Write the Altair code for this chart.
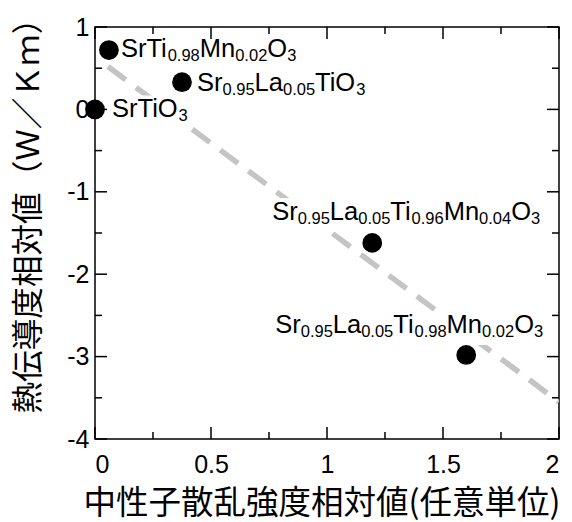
import re
import altair as alt
import pandas as pd

# ---- data -------------------------------------------------------------
compound = [
    "SrTiO_{3}",
    "SrTi_{0.98}Mn_{0.02}O_{3}",
    "Sr_{0.95}La_{0.05}TiO_{3}",
    "Sr_{0.95}La_{0.05}Ti_{0.96}Mn_{0.04}O_{3}",
    "Sr_{0.95}La_{0.05}Ti_{0.98}Mn_{0.02}O_{3}",
]
scattering = [0.0, 0.06, 0.375, 1.195, 1.6]      # neutron scattering intensity (rel.)
conductivity = [0.0, 0.72, 0.33, -1.62, -2.98]   # thermal conductivity (rel., W/Km)

fit_x = [0.056, 2.0]
fit_y = [0.52, -3.55]

x_major = [0, 0.5, 1, 1.5, 2]
x_minor = [0.25, 0.75, 1.25, 1.75]
y_major = [1, 0, -1, -2, -3, -4]
y_minor = [0.5, -0.5, -1.5, -2.5, -3.5]

x_title = "中性子散乱強度相対値(任意単位)"
y_title = "熱伝導度相対値（Ｗ／Ｋｍ）"

# ---- layout / style ---------------------------------------------------
W, H = 464, 412
X_DOM, Y_DOM = [0, 2], [-4, 1]
PX_X = W / (X_DOM[1] - X_DOM[0])
PX_Y = H / (Y_DOM[1] - Y_DOM[0])

LATIN = "Liberation Sans"
CJK = "Noto Sans CJK JP"
F_MAIN, F_SUB, SUB_SHIFT = 25.5, 16.5, 4

# label start (dx) and baseline (dy) offsets from each marker, in pixels
label_dx = [17, 12, 15, -100, -191]
label_dy = [8, 7, 9, -23, -22]

# Arial-metric advance widths (per em)
ADV = {"S": .667, "r": .333, "T": .611, "i": .222, "M": .833, "n": .556,
       "O": .778, "L": .556, "a": .556, ".": .278}
for d in "0123456789":
    ADV[d] = .556


def text_width(s, size):
    return sum(ADV.get(c, .556) for c in s) * size


def segments(s):
    out = []
    for m in re.finditer(r"_\{([^}]*)\}|([^_]+)", s):
        if m.group(1) is not None:
            out.append((m.group(1), True))
        else:
            out.append((m.group(2), False))
    return out


seg_rows, box_rows = [], []
for name, px, py, dx0, dy0 in zip(compound, scattering, conductivity, label_dx, label_dy):
    cursor = dx0
    for txt, sub in segments(name):
        fs = F_SUB if sub else F_MAIN
        seg_rows.append({
            "x": px + cursor / PX_X,
            "y": py - (dy0 + (SUB_SHIFT if sub else 0)) / PX_Y,
            "t": txt,
            "fs": fs,
        })
        cursor += text_width(txt, fs)
    # white backing so the fit line disappears behind each label
    box_rows.append({
        "x": px + (dx0 - 3) / PX_X,
        "x2": px + (cursor + 3) / PX_X,
        "y": py - (dy0 - 22) / PX_Y,
        "y2": py - (dy0 + 12) / PX_Y,
    })

points = pd.DataFrame({"x": scattering, "y": conductivity, "name": compound})
fit = pd.DataFrame({"x": fit_x, "y": fit_y})
segs = pd.DataFrame(seg_rows)
boxes = pd.DataFrame(box_rows)

xs = alt.Scale(domain=X_DOM, nice=False, zero=False)
ys = alt.Scale(domain=Y_DOM, nice=False, zero=False)

x_axis = alt.Axis(
    values=x_major, ticks=False, domain=False, grid=False,
    labelFont=LATIN, labelFontSize=25, labelColor="black", labelPadding=13,
    labelExpr="'' + datum.value",
    title=x_title,
    titleFont=CJK, titleFontSize=32.5, titleFontWeight="normal", titleColor="black",
    titleAnchor="start", titleAlign="left", titleBaseline="alphabetic",
    titleX=-12, titleY=74,
)
y_axis = alt.Axis(
    values=y_major, ticks=False, domain=False, grid=False,
    labelFont=LATIN, labelFontSize=25, labelColor="black", labelPadding=6,
    labelExpr="datum.value < 0 ? '-' + abs(datum.value) : '' + datum.value",
    title=y_title,
    titleFont=CJK, titleFontSize=31.6, titleFontWeight="normal", titleColor="black",
    titleAngle=270, titleAnchor="start", titleAlign="left", titleBaseline="alphabetic",
    titleX=-57, titleY=386,
)


def X(field):
    return alt.X(field, scale=xs, axis=x_axis)


def Y(field):
    return alt.Y(field, scale=ys, axis=y_axis)


fit_line = alt.Chart(fit).mark_line(
    color="#c4c4c4", strokeWidth=5.5, strokeDash=[22, 13], clip=True
).encode(x=X("x:Q"), y=Y("y:Q"))

label_bg = alt.Chart(boxes).mark_rect(color="white").encode(
    x=X("x:Q"), x2="x2:Q", y=Y("y:Q"), y2="y2:Q",
)

markers = alt.Chart(points).mark_circle(size=390, color="black", opacity=1).encode(
    x=X("x:Q"), y=Y("y:Q"),
)

label_text = alt.Chart(segs).mark_text(
    align="left", baseline="alphabetic", font=LATIN, color="black"
).encode(
    x=X("x:Q"), y=Y("y:Q"),
    text="t:N",
    size=alt.Size("fs:Q", scale=None),
)


def tick_layers(vals, length, horizontal):
    base = alt.Chart(pd.DataFrame({"v": vals}))
    style = dict(color="black", strokeWidth=1.5)
    if horizontal:
        return [
            base.mark_rule(**style).encode(x=X("v:Q"), y=alt.value(H), y2=alt.value(H - length)),
            base.mark_rule(**style).encode(x=X("v:Q"), y=alt.value(0), y2=alt.value(length)),
        ]
    return [
        base.mark_rule(**style).encode(y=Y("v:Q"), x=alt.value(0), x2=alt.value(length)),
        base.mark_rule(**style).encode(y=Y("v:Q"), x=alt.value(W), x2=alt.value(W - length)),
    ]


ticks = (tick_layers(x_major, 12, True) + tick_layers(x_minor, 7, True)
         + tick_layers(y_major, 12, False) + tick_layers(y_minor, 7, False))

chart = alt.layer(fit_line, label_bg, markers, label_text, *ticks).properties(
    width=W, height=H,
    autosize=alt.AutoSizeParams(type="none"),
    padding={"left": 95, "top": 27, "right": 13, "bottom": 83},
    background="white",
).configure_view(stroke="black", strokeWidth=1.5)

chart.save("out.html", embed_options={"renderer": "svg", "actions": False})
